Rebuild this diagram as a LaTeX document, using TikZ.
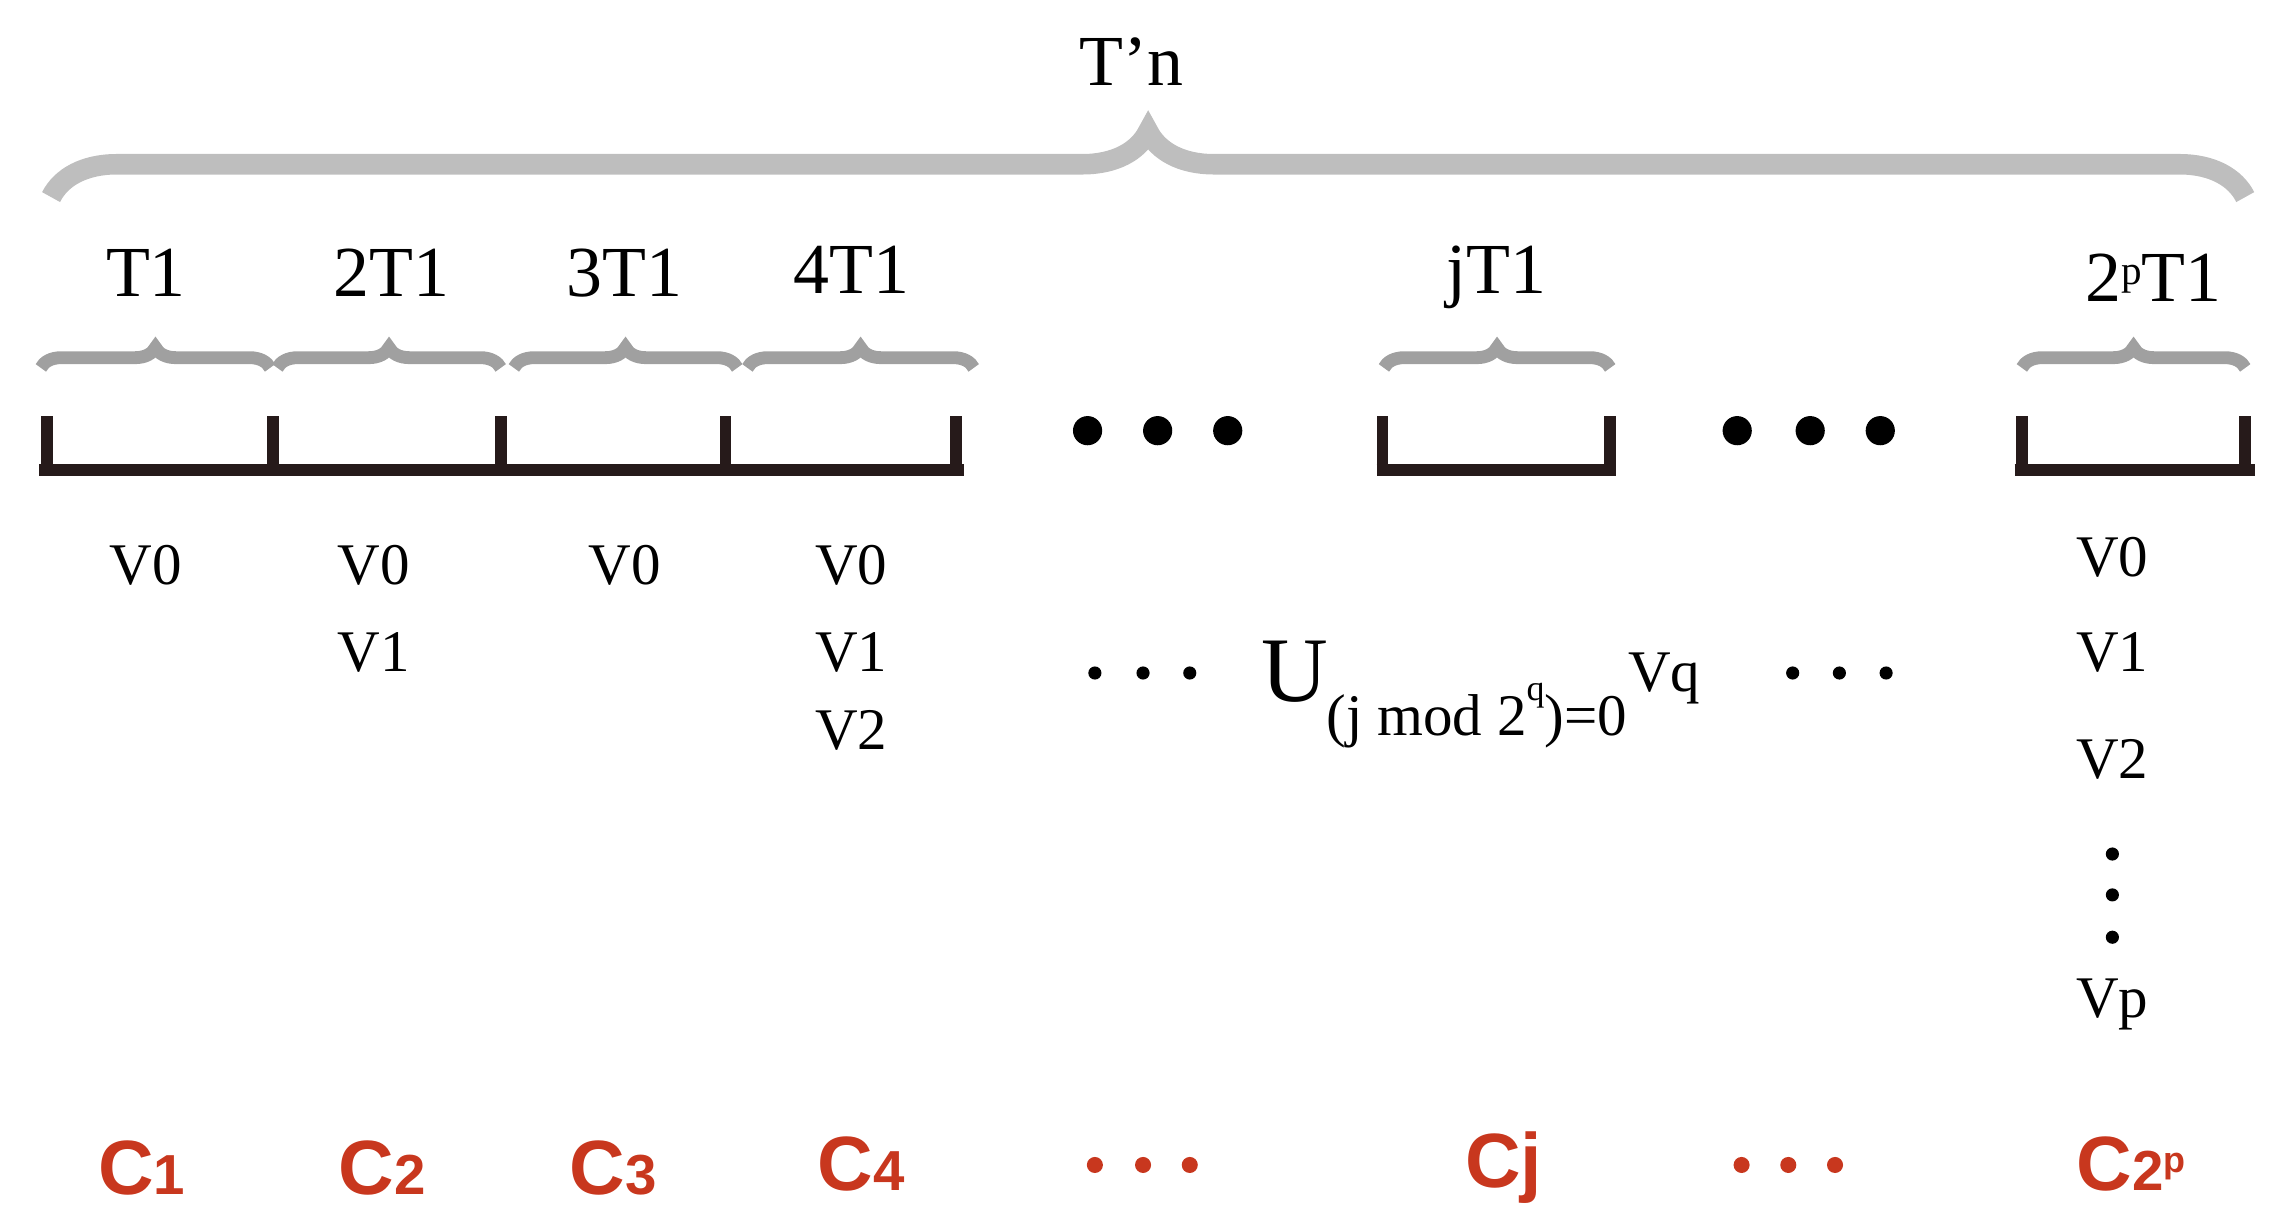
\documentclass[tikz,border=0pt]{standalone}
\usepackage{fontspec}
\setmainfont{Liberation Serif}
\newfontfamily\redf{Liberation Sans}
\usetikzlibrary{decorations.pathreplacing}
\definecolor{br}{RGB}{190,190,190}
\definecolor{sb}{RGB}{160,160,160}
\definecolor{dk}{RGB}{38,26,26}
\definecolor{rd}{RGB}{200,55,30}
\tikzset{
 bigbrace/.style={draw=br,line width=4pt,decorate,decoration={brace,amplitude=0.45cm}},
 smallbrace/.style={draw=sb,line width=2.5pt,decorate,decoration={brace,amplitude=0.14cm}},
 bar/.style={draw=dk,line width=0.08cm},
 lab/.style={font=\fontsize{14}{16}\selectfont,inner sep=0},
 vl/.style={font=\fontsize{11.5}{13}\selectfont,inner sep=0},
 cl/.style={font=\redf\bfseries\fontsize{15}{17}\selectfont,text=rd,inner sep=0},
 bd/.style={fill=black,circle,inner sep=0,minimum size=0.2cm},
 sd/.style={fill=black,circle,inner sep=0,minimum size=0.09cm},
 rdot/.style={fill=rd,circle,inner sep=0,minimum size=0.11cm}
}
\newcommand{\cc}[1]{C{\fontsize{11}{12}\selectfont#1}}
\begin{document}
\begin{tikzpicture}
\useasboundingbox (0,0) rectangle (15.68,-8.39);
% big brace
\coordinate (bl) at (0.35,-1.35); \coordinate (brr) at (15.38,-1.35);
\draw[bigbrace] (bl) -- (brr);
\node[lab] (tn) at (7.75,-0.42) {T’n};
% small braces
\foreach \a/\b/\n in {0.28/1.85/b1,1.90/3.43/b2,3.52/5.05/b3,5.12/6.67/b4,9.48/11.03/bj,13.85/15.38/bp}
  \draw[smallbrace] (\a,-2.52) -- (\b,-2.52);
\node[lab] (t1) at (1.00,-1.87) {T1};
\node[lab] (t2) at (2.68,-1.87) {2T1};
\node[lab] (t3) at (4.28,-1.87) {3T1};
\node[lab] (t4) at (5.83,-1.85) {4T1};
\node[lab] (tj) at (10.25,-1.90) {jT1};
\node[lab] (tp) at (14.75,-1.90) {2\raisebox{0.5ex}{\fontsize{8}{9}\selectfont p}T1};
% brackets
\draw[bar] (0.27,-3.22) -- (6.60,-3.22);
\foreach \x in {0.32,1.87,3.43,4.97,6.55} \draw[bar] (\x,-2.85) -- (\x,-3.22);
\draw[bar] (9.43,-3.22) -- (11.07,-3.22);
\foreach \x in {9.47,11.03} \draw[bar] (\x,-2.85) -- (\x,-3.22);
\draw[bar] (13.80,-3.22) -- (15.45,-3.22);
\foreach \x in {13.85,15.38} \draw[bar] (\x,-2.85) -- (\x,-3.22);
% big dots
\foreach \x in {7.45,7.93,8.41,11.90,12.40,12.88} \node[bd] at (\x,-2.95) {};
% V labels
\node[vl] at (1.00,-3.87) {V0};
\node[vl] at (2.56,-3.87) {V0};
\node[vl] at (2.56,-4.47) {V1};
\node[vl] at (4.28,-3.87) {V0};
\node[vl] at (5.83,-3.87) {V0};
\node[vl] at (5.83,-4.47) {V1};
\node[vl] at (5.83,-5.00) {V2};
\node[vl] at (14.47,-3.82) {V0};
\node[vl] at (14.47,-4.47) {V1};
\node[vl] at (14.47,-5.20) {V2};
\foreach \y in {-5.85,-6.13,-6.42} \node[sd] at (14.47,\y) {};
\node[vl] at (14.47,-6.88) {Vp};
% small dots
\foreach \x in {7.50,7.83,8.15,12.28,12.60,12.92} \node[sd] at (\x,-4.61) {};
% formula
\node[inner sep=0,font=\fontsize{18}{20}\selectfont] (u) at (8.87,-4.60) {U};
\node[vl,anchor=west] (sub) at (9.08,-4.90) {(j mod 2\raisebox{1.3ex}{\fontsize{7}{8}\selectfont q})=0};
\node[vl] (vq) at (11.40,-4.65) {Vq};
% red labels
\node[cl] at (0.97,-8.00) {\cc{1}};
\node[cl] at (2.62,-8.00) {\cc{2}};
\node[cl] at (4.20,-8.00) {\cc{3}};
\node[cl] at (5.90,-7.97) {\cc{4}};
\node[cl] at (10.30,-8.00) {Cj};
\node[cl] at (14.60,-7.97) {C{\fontsize{11}{12}\selectfont 2\raisebox{0.6ex}{\fontsize{7}{8}\selectfont p}}};
\foreach \x in {7.50,7.83,8.15,11.93,12.25,12.57} \node[rdot] at (\x,-7.98) {};
\end{tikzpicture}
\end{document}
